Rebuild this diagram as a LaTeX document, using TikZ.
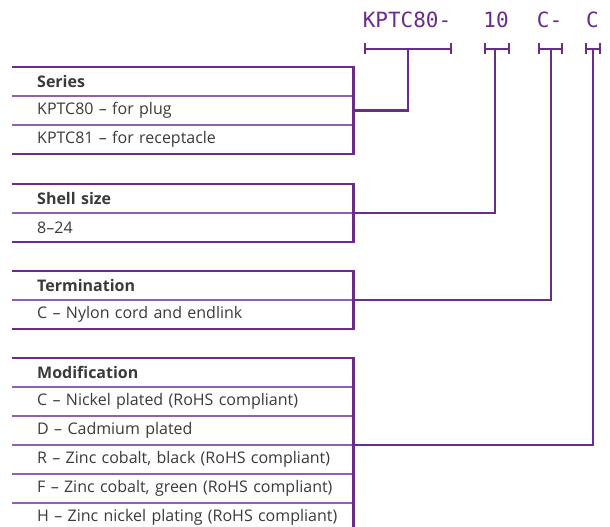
\documentclass[tikz,border=0pt]{standalone}
\usepackage{fontspec}
\setmainfont{Open Sans}
\newfontfamily\codefont{DejaVu Sans Mono}
\usepackage{xcolor}
\usetikzlibrary{arrows.meta,positioning}
\definecolor{kpurple}{HTML}{6A2C8A}
\definecolor{kdark}{HTML}{3A3A3A}

\tikzset{
  specrow/.style={anchor=north west,minimum height=28.6pt,text width=291pt,
    inner xsep=25pt,inner ysep=0pt,align=left,text=kdark,
    font=\fontsize{16}{18}\selectfont,
    execute at begin node={\hbox\bgroup},execute at end node={\egroup}},
  frame/.style={draw=kpurple,line width=2.4pt},
  sepline/.style={draw=kpurple!75,line width=1.2pt},
  link/.style={draw=kpurple,line width=2.4pt},
  bracket/.style={draw=kpurple,line width=2.4pt,{Bar[width=11pt]}-{Bar[width=11pt]}},
  code/.style={anchor=base,inner sep=0pt,text=kpurple,
    font=\codefont\fontsize{21}{24}\selectfont},
}

\begin{document}
\begin{tikzpicture}[x=1pt,y=-1pt]
  \useasboundingbox (0,0) rectangle (610,527);

  % ordering code
  \node[code] (cSer) at (407,28) {KPTC80-};
  \node[code] (cShl) at (496,28) {10};
  \node[code] (cTrm) at (549.5,28) {C-};
  \node[code] (cMod) at (592.5,28) {C};

  \coordinate (bSerL) at (364,49); \coordinate (bSerR) at (452,49);
  \coordinate (bShlL) at (484,49); \coordinate (bShlR) at (510,49);
  \coordinate (bTrmL) at (538,49); \coordinate (bTrmR) at (563,49);
  \coordinate (bModL) at (585,49); \coordinate (bModR) at (601,49);
  \coordinate (bSer) at (408,49);
  \coordinate (bShl) at (495,49);
  \coordinate (bTrm) at (551,49);
  \coordinate (bMod) at (593,49);

  % series
  \node[specrow] (ser0) at (12,67) {\bfseries Series};
  \node[specrow,below=0pt of ser0] (ser1) {KPTC80 – for plug};
  \node[specrow,below=0pt of ser1] (ser2) {KPTC81 – for receptacle};

  % shell size
  \node[specrow,below=30pt of ser2] (shl0) {\bfseries Shell size};
  \node[specrow,below=0pt of shl0] (shl1) {8–24};

  % termination
  \node[specrow,below=29pt of shl1] (trm0) {\bfseries Termination};
  \node[specrow,below=0pt of trm0] (trm1) {C – Nylon cord and endlink};

  % modification
  \node[specrow,below=29pt of trm1] (mod0) {\bfseries Modification};
  \node[specrow,below=0pt of mod0] (mod1) {C – Nickel plated (RoHS compliant)};
  \node[specrow,below=0pt of mod1] (mod2) {D – Cadmium plated};
  \node[specrow,below=0pt of mod2] (mod3) {R – Zinc cobalt, black (RoHS compliant)};
  \node[specrow,below=0pt of mod3] (mod4) {F – Zinc cobalt, green (RoHS compliant)};
  \node[specrow,below=0pt of mod4] (mod5) {H – Zinc nickel plating (RoHS compliant)};

  % row separators
  \foreach \r in {ser0,ser1,shl0,trm0,mod0,mod1,mod2,mod3,mod4}
    \draw[sepline] (\r.south west) -- (\r.south east);

  % box frames
  \draw[frame] (ser0.north west) -- (ser0.north east) -- (ser2.south east) -- (ser2.south west);
  \draw[frame] (shl0.north west) -- (shl0.north east) -- (shl1.south east) -- (shl1.south west);
  \draw[frame] (trm0.north west) -- (trm0.north east) -- (trm1.south east) -- (trm1.south west);
  \draw[frame] (mod0.north west) -- (mod0.north east) -- (mod5.south east);

  % brackets and links
  \draw[bracket] (bSerL) -- (bSerR);
  \draw[bracket] (bShlL) -- (bShlR);
  \draw[bracket] (bTrmL) -- (bTrmR);
  \draw[bracket] (bModL) -- (bModR);
  \draw[link] (bSer) |- (ser1.east);
  \draw[link] (bShl) |- (shl0.south east);
  \draw[link] (bTrm) |- (trm0.south east);
  \draw[link] (bMod) |- (mod2.south east);
\end{tikzpicture}
\end{document}
